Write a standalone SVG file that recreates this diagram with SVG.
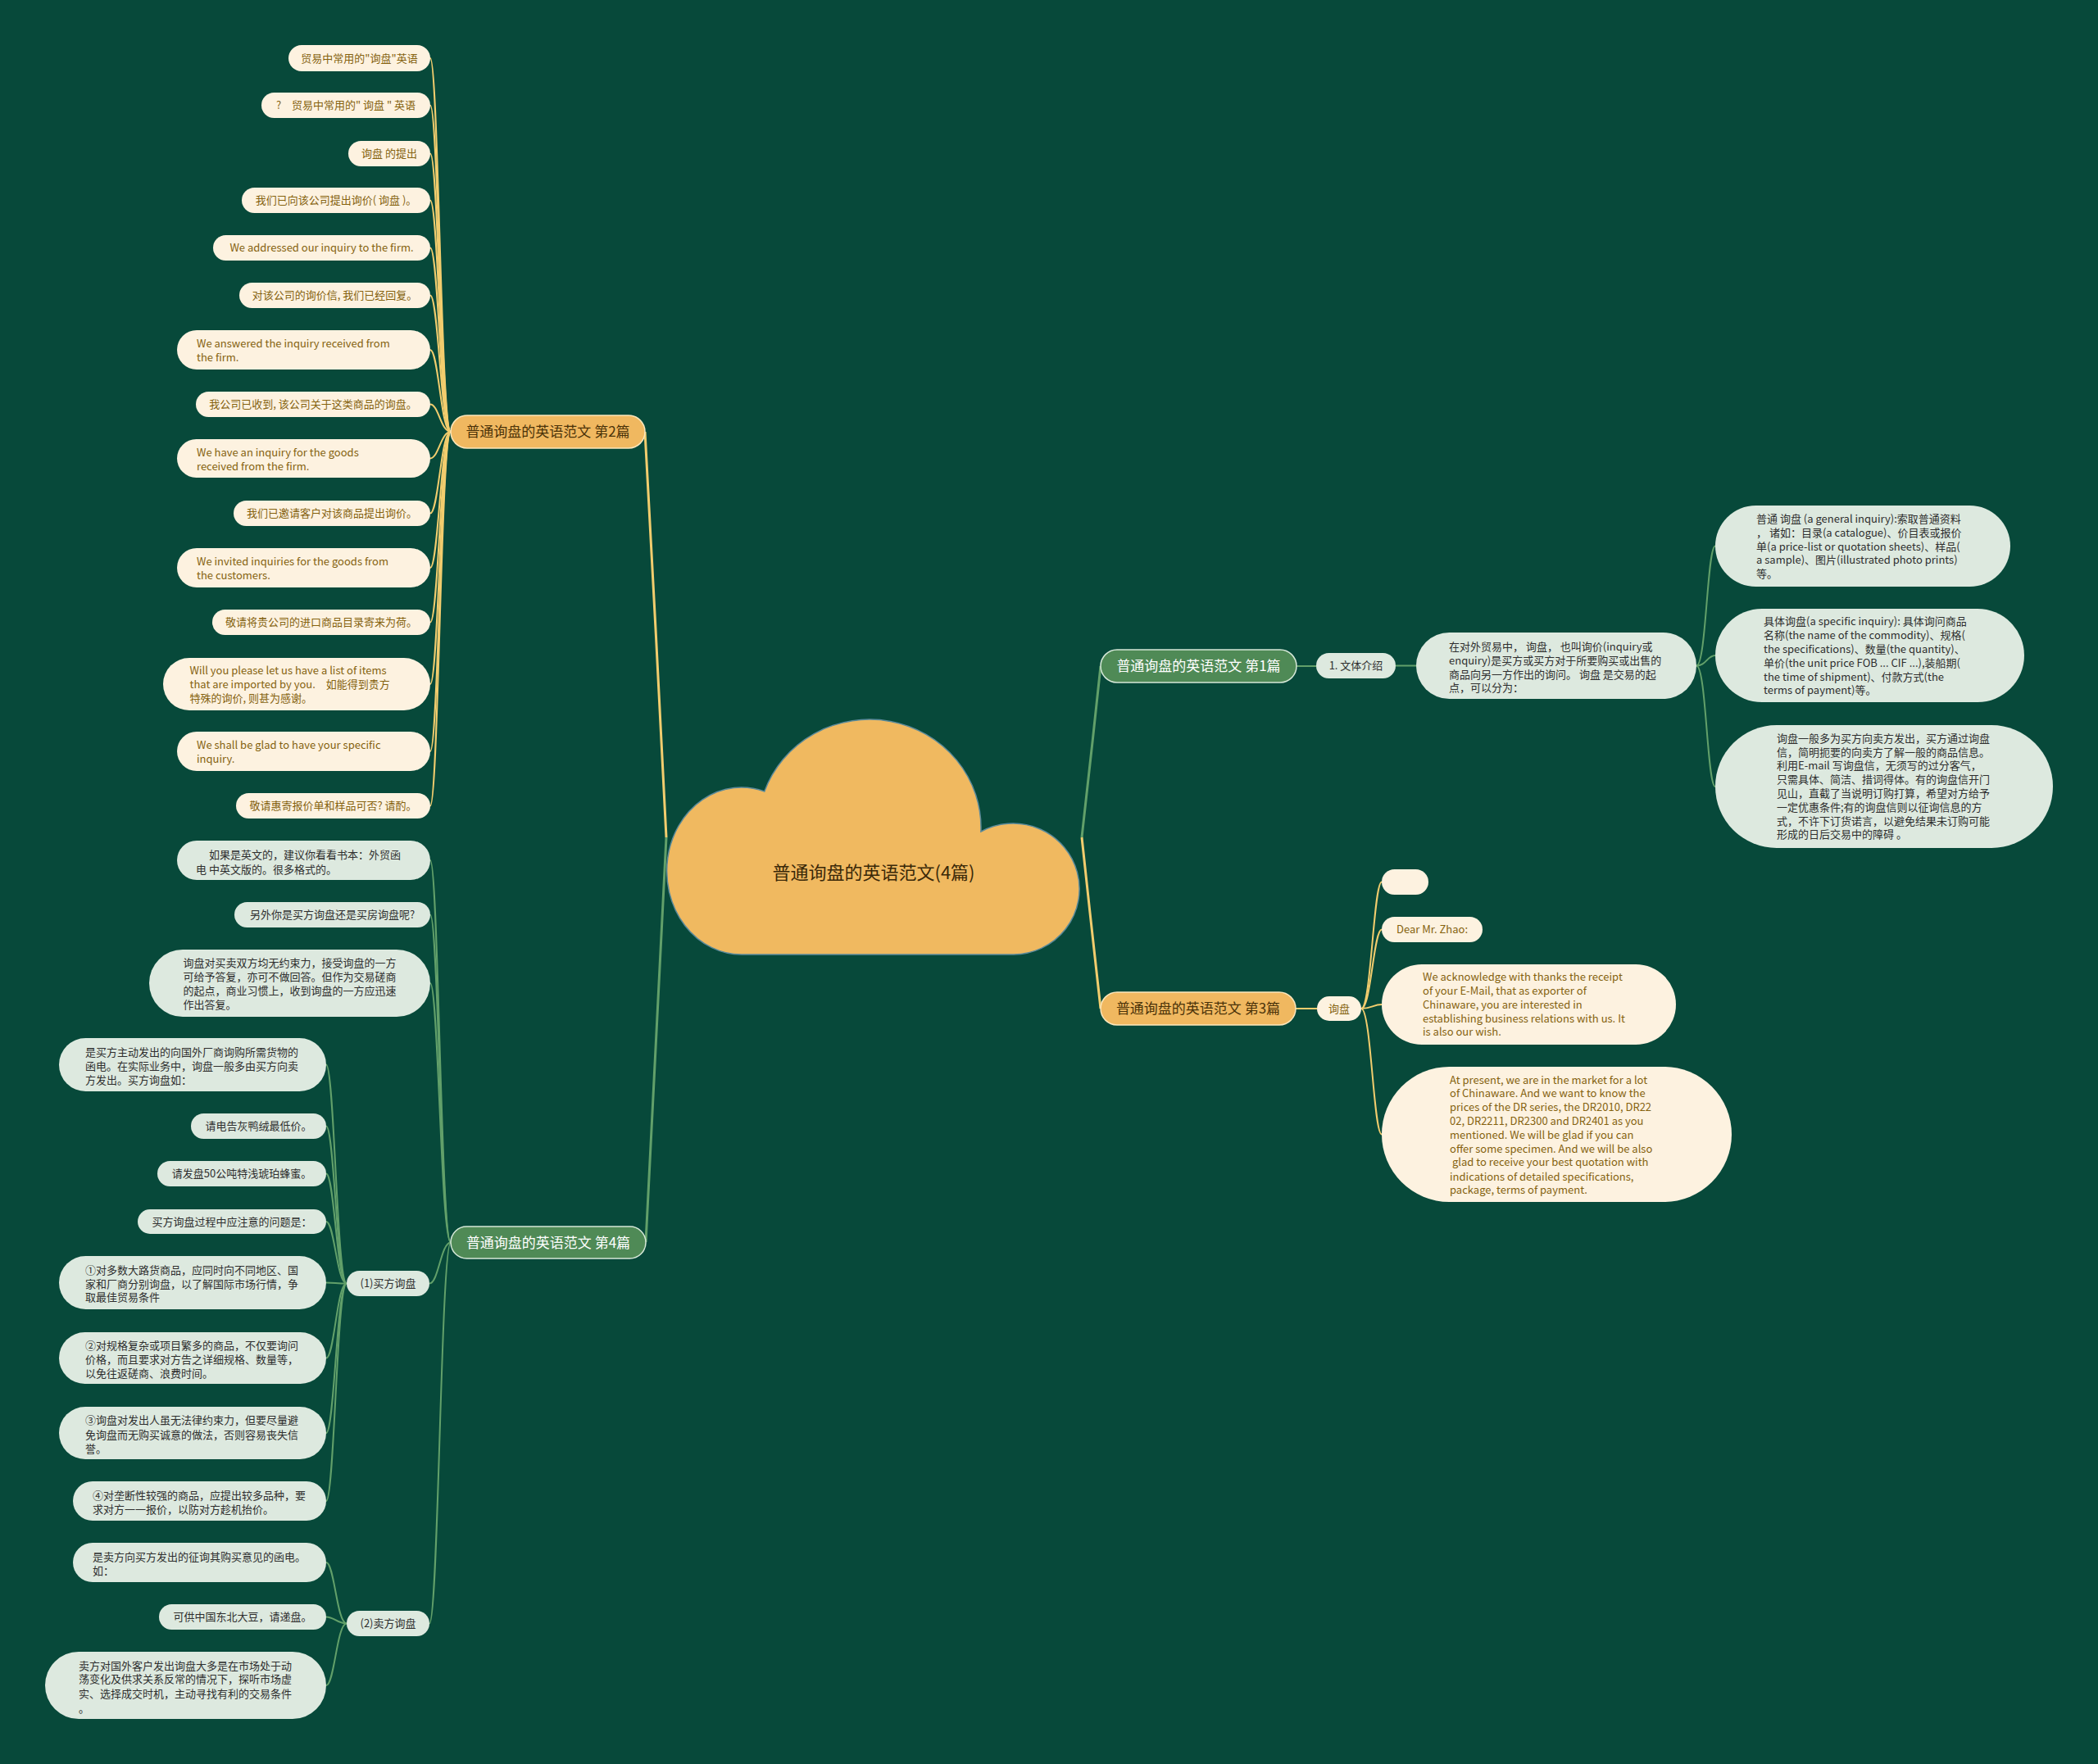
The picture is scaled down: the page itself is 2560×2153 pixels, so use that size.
<svg xmlns="http://www.w3.org/2000/svg" width="2560" height="2153" viewBox="0 0 2560 2153">
<style>
text{font-family:"Noto Sans CJK SC","Noto Sans",sans-serif;font-size:13px}
.cr{fill:#fdf2e0}
.gr{fill:#dde9df}
.ct{fill:#85620f}
.gt{fill:#2e2e2e}
.m{text-anchor:middle}
.bo{fill:#f0b860;stroke:#fbe6bb;stroke-width:1.5}
.bg{fill:#4f8a56;stroke:#d6e8d8;stroke-width:1.5}
.bot{fill:#4a3208;font-size:17px;text-anchor:middle}
.bgt{fill:#ffffff;font-size:17px;text-anchor:middle}
.ly{fill:none;stroke:#f2cd6e;stroke-width:2}
.lg{fill:none;stroke:#62a06a;stroke-width:2}
.tk{stroke-width:3}
</style>
<rect x="0" y="0" width="2560" height="2153" fill="#07493a"/>

<g id="connectors">
<path class="ly tk" d="M813 1022 C806 900 795 650 787 527"/>
<path class="lg tk" d="M813 1022 C806 1140 795 1400 788 1516"/>
<path class="lg tk" d="M1320 1022 C1327 960 1336 880 1343 813"/>
<path class="ly tk" d="M1320 1022 C1327 1090 1336 1165 1343 1231"/>
<path class="ly" d="M550 527 C538 527 535 71 525 71"/>
<path class="ly" d="M550 527 C538 527 535 128.5 525 128.5"/>
<path class="ly" d="M550 527 C538 527 535 187.5 525 187.5"/>
<path class="ly" d="M550 527 C538 527 535 244.5 525 244.5"/>
<path class="ly" d="M550 527 C538 527 535 302.5 525 302.5"/>
<path class="ly" d="M550 527 C538 527 535 360.5 525 360.5"/>
<path class="ly" d="M550 527 C538 527 535 427 525 427"/>
<path class="ly" d="M550 527 C538 527 535 493.5 525 493.5"/>
<path class="ly" d="M550 527 C538 527 535 559.5 525 559.5"/>
<path class="ly" d="M550 527 C538 527 535 626.5 525 626.5"/>
<path class="ly" d="M550 527 C538 527 535 693 525 693"/>
<path class="ly" d="M550 527 C538 527 535 759.5 525 759.5"/>
<path class="ly" d="M550 527 C538 527 535 835 525 835"/>
<path class="ly" d="M550 527 C538 527 535 917 525 917"/>
<path class="ly" d="M550 527 C538 527 535 983.5 525 983.5"/>
<path class="lg" d="M550 1516.5 C538 1516.5 535 1050 525 1050"/>
<path class="lg" d="M550 1516.5 C538 1516.5 535 1116.5 525 1116.5"/>
<path class="lg" d="M550 1516.5 C538 1516.5 535 1200 525 1200"/>
<path class="lg" d="M550 1516.5 C538 1516.5 535 1566.5 524 1566.5"/>
<path class="lg" d="M550 1516.5 C538 1516.5 535 1981.5 524 1981.5"/>
<path class="lg" d="M423 1566.5 C411 1566.5 408 1299.5 398 1299.5"/>
<path class="lg" d="M423 1566.5 C411 1566.5 408 1374.5 398 1374.5"/>
<path class="lg" d="M423 1566.5 C411 1566.5 408 1432.5 398 1432.5"/>
<path class="lg" d="M423 1566.5 C411 1566.5 408 1491 398 1491"/>
<path class="lg" d="M423 1566.5 C411 1566.5 408 1565.5 398 1565.5"/>
<path class="lg" d="M423 1566.5 C411 1566.5 408 1657.5 398 1657.5"/>
<path class="lg" d="M423 1566.5 C411 1566.5 408 1749 398 1749"/>
<path class="lg" d="M423 1566.5 C411 1566.5 408 1832 398 1832"/>
<path class="lg" d="M423 1981.5 C411 1981.5 408 1907 398 1907"/>
<path class="lg" d="M423 1981.5 C411 1981.5 408 1973.5 398 1973.5"/>
<path class="lg" d="M423 1981.5 C411 1981.5 408 2057 398 2057"/>
<path class="lg" d="M1582 813 L1606 813"/>
<path class="lg" d="M1703 812.5 L1728 812.5"/>
<path class="lg" d="M2070 812.5 C2082 812.5 2083 666.5 2093 666.5"/>
<path class="lg" d="M2070 812.5 C2082 812.5 2083 800 2093 800"/>
<path class="lg" d="M2070 812.5 C2082 812.5 2083 960 2093 960"/>
<path class="ly" d="M1581 1231 L1607 1231"/>
<path class="ly" d="M1661 1231 C1673 1231 1676 1076.5 1686 1076.5"/>
<path class="ly" d="M1661 1231 C1673 1231 1676 1134.5 1686 1134.5"/>
<path class="ly" d="M1661 1231 C1673 1231 1676 1226 1686 1226"/>
<path class="ly" d="M1661 1231 C1673 1231 1676 1384.5 1686 1384.5"/>
</g>

<g id="center">
<path d="M932.8 966 A136 132 0 0 1 1196.9 1015 A81 80 0 1 1 1237 1165 L905 1165 A91 102 0 1 1 932.8 966 Z" fill="#f0b960" stroke="#5b8a9a" stroke-width="1.5"/>
<text x="1066" y="1073" style="font-size:22px;fill:#3a2808" class="m">普通询盘的英语范文(4篇)</text>
</g>

<g id="branch2">
<rect class="bo" x="550" y="507" width="237" height="40" rx="20"/>
<text class="bot" x="668.5" y="533">普通询盘的英语范文 第2篇</text>
</g>
<g id="b2n1"><rect class="cr" x="352" y="55" width="173" height="32" rx="16"/><text class="ct m" x="438.5" y="75.5">贸易中常用的"询盘"英语</text></g>
<g id="b2n2"><rect class="cr" x="319" y="113" width="206" height="31" rx="15.5"/><text class="ct m" x="422" y="133">?　贸易中常用的" 询盘 " 英语</text></g>
<g id="b2n3"><rect class="cr" x="425" y="172" width="100" height="31" rx="15.5"/><text class="ct m" x="475" y="192">询盘 的提出</text></g>
<g id="b2n4"><rect class="cr" x="295" y="229" width="230" height="31" rx="15.5"/><text class="ct m" x="410" y="249">我们已向该公司提出询价( 询盘 )。</text></g>
<g id="b2n5"><rect class="cr" x="260" y="287" width="265" height="31" rx="15.5"/><text class="ct m" x="392.5" y="307">We addressed our inquiry to the firm.</text></g>
<g id="b2n6"><rect class="cr" x="292" y="345" width="233" height="31" rx="15.5"/><text class="ct m" x="408.5" y="365">对该公司的询价信, 我们已经回复。</text></g>
<g id="b2n7"><rect class="cr" x="216" y="403" width="309" height="48" rx="24"/><text class="ct" x="240" y="423.5">We answered the inquiry received from</text><text class="ct" x="240" y="440.5">the firm.</text></g>
<g id="b2n8"><rect class="cr" x="239" y="478" width="286" height="31" rx="15.5"/><text class="ct m" x="382" y="498">我公司已收到, 该公司关于这类商品的询盘。</text></g>
<g id="b2n9"><rect class="cr" x="216" y="536" width="309" height="47" rx="23.5"/><text class="ct" x="240" y="556.5">We have an inquiry for the goods</text><text class="ct" x="240" y="573.5">received from the firm.</text></g>
<g id="b2n10"><rect class="cr" x="285" y="611" width="240" height="31" rx="15.5"/><text class="ct m" x="405" y="631">我们已邀请客户对该商品提出询价。</text></g>
<g id="b2n11"><rect class="cr" x="216" y="669" width="309" height="48" rx="24"/><text class="ct" x="240" y="689.5">We invited inquiries for the goods from</text><text class="ct" x="240" y="706.5">the customers.</text></g>
<g id="b2n12"><rect class="cr" x="259" y="744" width="266" height="31" rx="15.5"/><text class="ct m" x="392" y="764">敬请将贵公司的进口商品目录寄来为荷。</text></g>
<g id="b2n13"><rect class="cr" x="199" y="803" width="326" height="64" rx="32"/><text class="ct" x="231.5" y="822.5">Will you please let us have a list of items</text><text class="ct" x="231.5" y="839.5">that are imported by you.　如能得到贵方</text><text class="ct" x="231.5" y="856.5">特殊的询价, 则甚为感谢。</text></g>
<g id="b2n14"><rect class="cr" x="216" y="893" width="309" height="48" rx="24"/><text class="ct" x="240" y="913.5">We shall be glad to have your specific</text><text class="ct" x="240" y="930.5">inquiry.</text></g>
<g id="b2n15"><rect class="cr" x="288" y="968" width="237" height="31" rx="15.5"/><text class="ct m" x="406.5" y="988">敬请惠寄报价单和样品可否? 请酌。</text></g>

<g id="branch4">
<rect class="bg" x="550" y="1497" width="238" height="39" rx="19.5"/>
<text class="bgt" x="669" y="1522.5">普通询盘的英语范文 第4篇</text>
</g>
<g id="b4l1"><rect class="gr" x="216" y="1026" width="309" height="48" rx="24"/><text class="gt" x="255" y="1047.5">如果是英文的，建议你看看书本：外贸函</text><text class="gt" x="239" y="1065.5">电 中英文版的。很多格式的。</text></g>
<g id="b4l2"><rect class="gr" x="286" y="1101" width="239" height="31" rx="15.5"/><text class="gt m" x="405.5" y="1121">另外你是买方询盘还是买房询盘呢?</text></g>
<g id="b4l3"><rect class="gr" x="182" y="1159" width="343" height="82" rx="41"/><text class="gt" x="223.5" y="1179.5">询盘对买卖双方均无约束力，接受询盘的一方</text><text class="gt" x="223.5" y="1196.5">可给予答复，亦可不做回答。但作为交易磋商</text><text class="gt" x="223.5" y="1213.5">的起点，商业习惯上，收到询盘的一方应迅速</text><text class="gt" x="223.5" y="1231">作出答复。</text></g>
<g id="buyer"><rect class="gr" x="423" y="1551" width="101" height="31" rx="15.5"/><text class="gt m" x="473.5" y="1571">(1)买方询盘</text></g>
<g id="b1m1"><rect class="gr" x="72" y="1267" width="326" height="65" rx="32.5"/><text class="gt" x="104" y="1288.5">是买方主动发出的向国外厂商询购所需货物的</text><text class="gt" x="104" y="1305.5">函电。在实际业务中，询盘一般多由买方向卖</text><text class="gt" x="104" y="1322.5">方发出。买方询盘如：</text></g>
<g id="b1m2"><rect class="gr" x="233" y="1359" width="165" height="31" rx="15.5"/><text class="gt m" x="315.5" y="1379">请电告灰鸭绒最低价。</text></g>
<g id="b1m3"><rect class="gr" x="192" y="1417" width="206" height="31" rx="15.5"/><text class="gt m" x="295" y="1437">请发盘50公吨特浅琥珀蜂蜜。</text></g>
<g id="b1m4"><rect class="gr" x="168" y="1476" width="230" height="30" rx="15"/><text class="gt m" x="283" y="1495.5">买方询盘过程中应注意的问题是：</text></g>
<g id="b1m5"><rect class="gr" x="72" y="1533" width="326" height="65" rx="32.5"/><text class="gt" x="104" y="1554.5">①对多数大路货商品，应同时向不同地区、国</text><text class="gt" x="104" y="1571.5">家和厂商分别询盘，以了解国际市场行情，争</text><text class="gt" x="104" y="1587.5">取最佳贸易条件</text></g>
<g id="b1m6"><rect class="gr" x="72" y="1626" width="326" height="63" rx="31.5"/><text class="gt" x="104" y="1646.5">②对规格复杂或项目繁多的商品，不仅要询问</text><text class="gt" x="104" y="1663.5">价格，而且要求对方告之详细规格、数量等，</text><text class="gt" x="104" y="1680.5">以免往返磋商、浪费时间。</text></g>
<g id="b1m7"><rect class="gr" x="72" y="1717" width="326" height="64" rx="32"/><text class="gt" x="104" y="1737.5">③询盘对发出人虽无法律约束力，但要尽量避</text><text class="gt" x="104" y="1755.5">免询盘而无购买诚意的做法，否则容易丧失信</text><text class="gt" x="104" y="1772.5">誉。</text></g>
<g id="b1m8"><rect class="gr" x="89" y="1808" width="309" height="48" rx="24"/><text class="gt" x="113" y="1829.5">④对垄断性较强的商品，应提出较多品种，要</text><text class="gt" x="113" y="1846.5">求对方一一报价，以防对方趁机抬价。</text></g>
<g id="seller"><rect class="gr" x="423" y="1966" width="101" height="31" rx="15.5"/><text class="gt m" x="473.5" y="1986">(2)卖方询盘</text></g>
<g id="s1"><rect class="gr" x="89" y="1883" width="309" height="48" rx="24"/><text class="gt" x="113" y="1904.5">是卖方向买方发出的征询其购买意见的函电。</text><text class="gt" x="113" y="1921.5">如：</text></g>
<g id="s2"><rect class="gr" x="194" y="1958" width="204" height="31" rx="15.5"/><text class="gt m" x="296" y="1978">可供中国东北大豆，请递盘。</text></g>
<g id="s3"><rect class="gr" x="55" y="2016" width="343" height="82" rx="41"/><text class="gt" x="96" y="2037.5">卖方对国外客户发出询盘大多是在市场处于动</text><text class="gt" x="96" y="2053.5">荡变化及供求关系反常的情况下，探听市场虚</text><text class="gt" x="96" y="2071.5">实、选择成交时机，主动寻找有利的交易条件</text><text class="gt" x="96" y="2090">。</text></g>

<g id="branch1">
<rect class="bg" x="1343" y="793" width="239" height="40" rx="20"/>
<text class="bgt" x="1462.5" y="819">普通询盘的英语范文 第1篇</text>
</g>
<g id="b1intro"><rect class="gr" x="1606" y="797" width="97" height="31" rx="15.5"/><text class="gt m" x="1654.5" y="817">1. 文体介绍</text></g>
<g id="r1"><rect class="gr" x="1728" y="772" width="342" height="81" rx="40.5"/><text class="gt" x="1768" y="793.5">在对外贸易中， 询盘， 也叫询价(inquiry或</text><text class="gt" x="1768" y="810.5">enquiry)是买方或买方对于所要购买或出售的</text><text class="gt" x="1768" y="827.5">商品向另一方作出的询问。 询盘 是交易的起</text><text class="gt" x="1768" y="843.5">点，可以分为：</text></g>
<g id="r2"><rect class="gr" x="2093" y="617" width="360" height="99" rx="49.5"/><text class="gt" x="2143" y="637.5">普通 询盘 (a general inquiry):索取普通资料</text><text class="gt" x="2143" y="654.5">， 诸如：目录(a catalogue)、价目表或报价</text><text class="gt" x="2143" y="671.5">单(a price-list or quotation sheets)、样品(</text><text class="gt" x="2143" y="687.5">a sample)、图片(illustrated photo prints)</text><text class="gt" x="2143" y="704.5">等。</text></g>
<g id="r3"><rect class="gr" x="2093" y="743" width="377" height="114" rx="57"/><text class="gt" x="2152" y="762.5">具体询盘(a specific inquiry): 具体询问商品</text><text class="gt" x="2152" y="779.5">名称(the name of the commodity)、规格(</text><text class="gt" x="2152" y="796.5">the specifications)、数量(the quantity)、</text><text class="gt" x="2152" y="813.5">单价(the unit price FOB ... CIF ...),装船期(</text><text class="gt" x="2152" y="830.5">the time of shipment)、付款方式(the</text><text class="gt" x="2152" y="846.5">terms of payment)等。</text></g>
<g id="r4"><rect class="gr" x="2093" y="885" width="412" height="150" rx="75"/><text class="gt" x="2168" y="905.5">询盘一般多为买方向卖方发出，买方通过询盘</text><text class="gt" x="2168" y="922.5">信，简明扼要的向卖方了解一般的商品信息。</text><text class="gt" x="2168" y="938.5">利用E-mail 写询盘信，无须写的过分客气，</text><text class="gt" x="2168" y="955.5">只需具体、简洁、措词得体。有的询盘信开门</text><text class="gt" x="2168" y="972.5">见山，直截了当说明订购打算，希望对方给予</text><text class="gt" x="2168" y="989.5">一定优惠条件;有的询盘信则以征询信息的方</text><text class="gt" x="2168" y="1006.5">式，不许下订货诺言，以避免结果未订购可能</text><text class="gt" x="2168" y="1022.5">形成的日后交易中的障碍 。</text></g>

<g id="branch3">
<rect class="bo" x="1343" y="1211" width="238" height="40" rx="20"/>
<text class="bot" x="1462" y="1237">普通询盘的英语范文 第3篇</text>
</g>
<g id="b3inq"><rect class="cr" x="1607" y="1216" width="54" height="30" rx="15"/><text class="ct m" x="1634" y="1235.5">询盘</text></g>
<g id="b3empty"><rect class="cr" x="1686" y="1061" width="57" height="31" rx="15.5"/></g>
<g id="b3dear"><rect class="cr" x="1686" y="1119" width="123" height="31" rx="15.5"/><text class="ct m" x="1747.5" y="1139">Dear Mr. Zhao:</text></g>
<g id="e1"><rect class="cr" x="1686" y="1177" width="359" height="98" rx="49"/><text class="ct" x="1736" y="1196.5">We acknowledge with thanks the receipt</text><text class="ct" x="1736" y="1213.5">of your E-Mail, that as exporter of</text><text class="ct" x="1736" y="1230.5">Chinaware, you are interested in</text><text class="ct" x="1736" y="1247.5">establishing business relations with us. It</text><text class="ct" x="1736" y="1263.5">is also our wish.</text></g>
<g id="e2"><rect class="cr" x="1686" y="1302" width="427" height="165" rx="82.5"/><text class="ct" x="1769" y="1322.5">At present, we are in the market for a lot</text><text class="ct" x="1769" y="1338.5">of Chinaware. And we want to know the</text><text class="ct" x="1769" y="1355.5">prices of the DR series, the DR2010, DR22</text><text class="ct" x="1769" y="1372.5">02, DR2211, DR2300 and DR2401 as you</text><text class="ct" x="1769" y="1389.5">mentioned. We will be glad if you can</text><text class="ct" x="1769" y="1406.5">offer some specimen. And we will be also</text><text class="ct" x="1772" y="1422.5">glad to receive your best quotation with</text><text class="ct" x="1769" y="1440.5">indications of detailed specifications,</text><text class="ct" x="1769" y="1456.5">package, terms of payment.</text></g>
</svg>
